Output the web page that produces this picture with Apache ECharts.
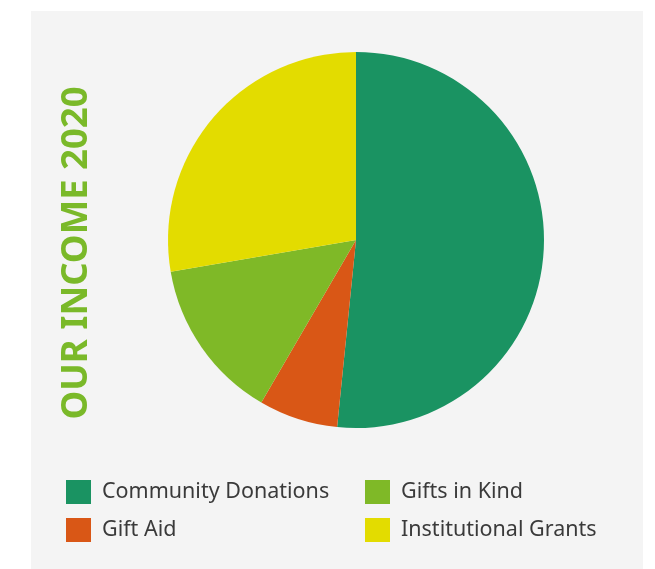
<!DOCTYPE html>
<html><head><meta charset="utf-8">
<script src="https://cdn.jsdelivr.net/npm/echarts@6/dist/echarts.min.js"></script>
<style>html,body{margin:0;padding:0;background:#fff}#c{width:655px;height:569px}</style>
</head><body><div id="c"></div>
<script>
const categories = ['Community Donations', 'Gift Aid', 'Gifts in Kind', 'Institutional Grants'];
const values = [51.6, 6.8, 13.9, 27.7];
const colors = ['#1a9362', '#d95716', '#7fb927', '#e3dc00'];
const title = 'OUR INCOME 2020';

const chart = echarts.init(document.getElementById('c'), null, {renderer: 'canvas'});
const legendText = {fontFamily: 'Noto Sans', fontSize: 21.5, color: '#3a3a3a', padding: [2, 0, 0, 6]};
chart.setOption({
  animation: false,
  graphic: [
    {type: 'rect', z: -10, shape: {x: 31, y: 11, width: 612, height: 560}, style: {fill: '#f4f4f4'}},
    {type: 'text', x: 77, y: 253, rotation: Math.PI / 2, style: {text: title, fill: '#7ab929', fontFamily: 'Noto Sans', fontWeight: 'bold', fontSize: 36.5, align: 'center', verticalAlign: 'middle'}}
  ],
  legend: [
    {data: categories.filter((c, i) => i === 0 || i === 1), orient: 'vertical', left: 66, top: 480, padding: 0, itemWidth: 25, itemHeight: 24, itemGap: 14, icon: 'rect', textStyle: legendText, selectedMode: false},
    {data: categories.filter((c, i) => i === 2 || i === 3), orient: 'vertical', left: 365, top: 480, padding: 0, itemWidth: 25, itemHeight: 24, itemGap: 14, icon: 'rect', textStyle: legendText, selectedMode: false}
  ],
  series: [{
    type: 'pie',
    center: [356, 240],
    radius: [0, 188],
    startAngle: 90,
    clockwise: true,
    label: {show: false},
    labelLine: {show: false},
    emphasis: {disabled: true},
    itemStyle: {borderWidth: 0},
    data: categories.map((n, i) => ({name: n, value: values[i], itemStyle: {color: colors[i]}}))
  }]
});
</script></body></html>
